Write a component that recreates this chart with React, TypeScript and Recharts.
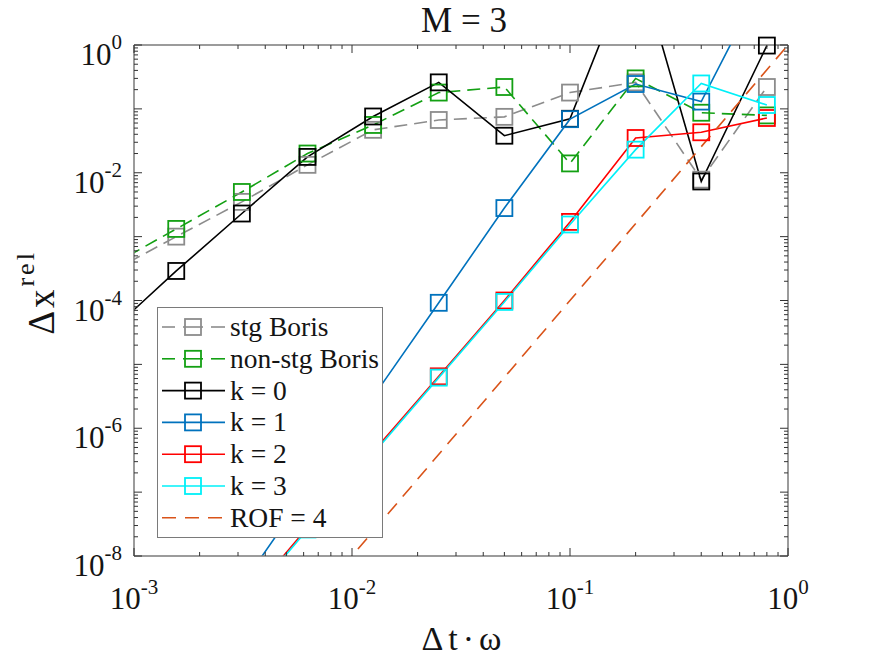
import React from 'react';
import { LineChart, Line, XAxis, YAxis, ReferenceLine } from 'recharts';

document.body.style.margin = '0';

// step sizes (Δt·ω), halving from 0.8 down
const dt = [7.8125e-4, 1.5625e-3, 3.125e-3, 6.25e-3, 1.25e-2, 2.5e-2, 5e-2, 0.1, 0.2, 0.4, 0.8];

const stgBoris = [2.8e-4, 1.0e-3, 3.5e-3, 1.33e-2, 4.7e-2, 6.7e-2, 7.5e-2, 0.18, 0.26, 0.0078, 0.22];
const nonStgBoris = [3.5e-4, 1.32e-3, 5.0e-3, 2.0e-2, 5.6e-2, 0.18, 0.22, 0.014, 0.3, 0.087, 0.079];
const k0 = [3.3e-5, 2.9e-4, 2.3e-3, 1.77e-2, 7.6e-2, 0.26, 0.038, 0.07, 27, 7.3e-3, 0.98];
const k1 = [null, null, 3.5e-9, 1.05e-7, 3.1e-6, 9.2e-5, 2.8e-3, 0.069, 0.245, 0.13, 13];
const k2 = [null, null, 1.7e-9, 2.8e-8, 4.3e-7, 6.5e-6, 1.0e-4, 1.7e-3, 0.035, 0.043, 0.072];
const k3 = [null, null, 1.6e-9, 2.6e-8, 4.0e-7, 6.2e-6, 9.5e-5, 1.55e-3, 0.023, 0.25, 0.115];

// reference slope line, order 4
const rofDt = [1e-3, 1];
const rof = [1e-12, 1];

const xMajor = [1e-3, 1e-2, 1e-1, 1];
const xExp = ['-3', '-2', '-1', '0'];
const yDecades = [1e-8, 1e-7, 1e-6, 1e-5, 1e-4, 1e-3, 1e-2, 1e-1, 1];
const yLabeled = [1e-8, 1e-6, 1e-4, 1e-2, 1];
const yExp = ['-8', '-6', '-4', '-2', '0'];

const minorOf = (decades: number[]) =>
  decades.slice(0, -1).flatMap((d) => [1, 2, 3, 4, 5, 6, 7, 8, 9].map((m) => m * d)).concat(decades[decades.length - 1]);

const xTicks = minorOf(xMajor);
const yTicks = minorOf(yDecades);

const W = 875;
const H = 657;
const MARGIN = { top: 45, right: 87, bottom: 0, left: 0 };
const TOP = MARGIN.top;
const RIGHT = W - MARGIN.right;
const SERIF = { fontFamily: "'Liberation Serif', serif" };
const TEXT = '#141414';
const AXIS = '#7a7a7a';
const TICK = '#333';

const X_DOMAIN: [number, number] = [1e-3, 1];
const Y_DOMAIN: [number, number] = [1e-8, 1];

type Series = { name: string; values: (number | null)[]; x?: number[]; color: string; dash?: string; marker: boolean };

const series: Series[] = [
  { name: 'stg Boris', values: stgBoris, color: '#8c8c8c', dash: '13 7', marker: true },
  { name: 'non-stg Boris', values: nonStgBoris, color: '#13a013', dash: '13 7', marker: true },
  { name: 'k = 0', values: k0, color: '#000000', marker: true },
  { name: 'k = 1', values: k1, color: '#0072BD', marker: true },
  { name: 'k = 2', values: k2, color: '#ff0000', marker: true },
  { name: 'k = 3', values: k3, color: '#00f0f8', marker: true },
  { name: 'ROF = 4', values: rof, x: rofDt, color: '#D95319', dash: '14 9', marker: false },
];

const toPoints = (s: Series) =>
  (s.x ?? dt)
    .map((x, i) => ({ x, y: s.values[i] }))
    .filter((p) => p.y != null) as { x: number; y: number }[];

const inView = (p: { x: number; y: number }) =>
  p.x >= X_DOMAIN[0] && p.x <= X_DOMAIN[1] && p.y >= Y_DOMAIN[0] && p.y <= Y_DOMAIN[1];

const findIdx = (list: number[], v: number) => list.findIndex((m) => Math.abs(m - v) / m < 1e-6);

const squareDot = (color: string) => (props: any) => {
  const { cx, cy, index } = props;
  if (cx == null || cy == null) return <g key={index} />;
  return (
    <rect key={index} x={cx - 8} y={cy - 8} width={16} height={16} fill="none" stroke={color} strokeWidth={1.8} />
  );
};

const XTick = (props: any) => {
  const { x, y, payload } = props;
  const major = findIdx(xMajor, payload.value);
  const len = major >= 0 ? 8 : 4;
  return (
    <g>
      <line x1={x} x2={x} y1={y} y2={y - len} stroke={TICK} strokeWidth={1} />
      <line x1={x} x2={x} y1={TOP} y2={TOP + len} stroke={TICK} strokeWidth={1} />
      {major >= 0 && (
        <text x={x} y={y + 53} textAnchor="middle" style={SERIF} fontSize={31} fill={TEXT}>
          10<tspan dy={-15} fontSize={21}>{xExp[major]}</tspan>
        </text>
      )}
    </g>
  );
};

const YTick = (props: any) => {
  const { x, y, payload } = props;
  const decade = findIdx(yDecades, payload.value);
  const lab = findIdx(yLabeled, payload.value);
  const len = decade >= 0 ? 8 : 4;
  return (
    <g>
      <line x1={x} x2={x + len} y1={y} y2={y} stroke={TICK} strokeWidth={1} />
      <line x1={RIGHT} x2={RIGHT - len} y1={y} y2={y} stroke={TICK} strokeWidth={1} />
      {lab >= 0 && (
        <text x={x - 12} y={y + 20} textAnchor="end" style={SERIF} fontSize={31} fill={TEXT}>
          10<tspan dy={-16} fontSize={21}>{yExp[lab]}</tspan>
        </text>
      )}
    </g>
  );
};

const XLabel = (props: any) => {
  const vb = props.viewBox;
  return (
    <text
      x={vb.x + vb.width / 2 + 3}
      y={vb.y + 94}
      textAnchor="middle"
      style={{ ...SERIF, letterSpacing: 5 }}
      fontSize={34}
      fill={TEXT}
    >
      Δt·ω
    </text>
  );
};

const YLabel = (props: any) => {
  const vb = props.viewBox;
  const cx = 54;
  const cy = vb.y + vb.height / 2 - 8;
  return (
    <text
      x={cx}
      y={cy}
      transform={`rotate(-90, ${cx}, ${cy})`}
      textAnchor="middle"
      style={{ ...SERIF, letterSpacing: 3 }}
      fontSize={37}
      fill={TEXT}
    >
      Δx<tspan dy={-20} fontSize={26}>rel</tspan>
    </text>
  );
};

const Title = (props: any) => {
  const vb = props.viewBox;
  return (
    <text x={vb.x + vb.width / 2 + 3} y={32} textAnchor="middle" style={SERIF} fontSize={35} fill={TEXT}>
      M = 3
    </text>
  );
};

function LegendBox() {
  const rowH = 31.8;
  return (
    <div style={{ position: 'absolute', left: 157, top: 307, width: 226, height: 231 }}>
      <svg width={226} height={231}>
        <rect x={0.5} y={0.5} width={225} height={230} fill="#fff" stroke={AXIS} strokeWidth={1} />
        {series.map((s, i) => {
          const cy = 20 + i * rowH;
          return (
            <g key={s.name}>
              {s.dash && s.marker ? (
                <>
                  <line x1={5} x2={18} y1={cy} y2={cy} stroke={s.color} strokeWidth={1.6} />
                  <line x1={26} x2={46} y1={cy} y2={cy} stroke={s.color} strokeWidth={1.6} />
                  <line x1={54} x2={68} y1={cy} y2={cy} stroke={s.color} strokeWidth={1.6} />
                </>
              ) : (
                <line x1={5} x2={68} y1={cy} y2={cy} stroke={s.color} strokeWidth={1.6} strokeDasharray={s.dash} />
              )}
              {s.marker && <rect x={28} y={cy - 8} width={16} height={16} fill="none" stroke={s.color} strokeWidth={1.8} />}
              <text x={73} y={cy + 9} style={SERIF} fontSize={27.5} fill={TEXT}>
                {s.name}
              </text>
            </g>
          );
        })}
      </svg>
    </div>
  );
}

export default function App() {
  return (
    <div style={{ position: 'relative', width: W, height: H, background: '#fff' }}>
      <LineChart width={W} height={H} margin={MARGIN}>
        <XAxis
          xAxisId="b"
          type="number"
          dataKey="x"
          scale="log"
          domain={X_DOMAIN}
          allowDataOverflow
          ticks={xTicks}
          interval={0}
          tickLine={false}
          tickSize={0}
          tickMargin={0}
          tick={<XTick />}
          height={101}
          axisLine={{ stroke: AXIS, strokeWidth: 1.5 }}
          label={<XLabel />}
        />
        <YAxis
          yAxisId="l"
          type="number"
          dataKey="y"
          scale="log"
          domain={Y_DOMAIN}
          allowDataOverflow
          ticks={yTicks}
          interval={0}
          tickLine={false}
          tickSize={0}
          tickMargin={0}
          tick={<YTick />}
          width={134}
          axisLine={{ stroke: AXIS, strokeWidth: 1.5 }}
          label={<YLabel />}
        />
        <XAxis xAxisId="m" type="number" dataKey="x" scale="log" domain={X_DOMAIN} hide />
        <YAxis yAxisId="m" type="number" dataKey="y" scale="log" domain={Y_DOMAIN} hide />
        <ReferenceLine xAxisId="b" yAxisId="l" y={1} stroke={AXIS} strokeWidth={1.5} label={<Title />} />
        <ReferenceLine xAxisId="b" yAxisId="l" x={1} stroke={AXIS} strokeWidth={1.5} />
        {series.map((s) => (
          <Line
            key={s.name}
            xAxisId="b"
            yAxisId="l"
            data={toPoints(s)}
            dataKey="y"
            type="linear"
            stroke={s.color}
            strokeWidth={1.6}
            strokeDasharray={s.dash}
            dot={false}
            activeDot={false}
            isAnimationActive={false}
          />
        ))}
        {series
          .filter((s) => s.marker)
          .map((s) => (
            <Line
              key={`${s.name}-m`}
              xAxisId="m"
              yAxisId="m"
              data={toPoints(s).filter(inView)}
              dataKey="y"
              stroke="none"
              dot={squareDot(s.color)}
              activeDot={false}
              isAnimationActive={false}
            />
          ))}
      </LineChart>
      <LegendBox />
    </div>
  );
}
